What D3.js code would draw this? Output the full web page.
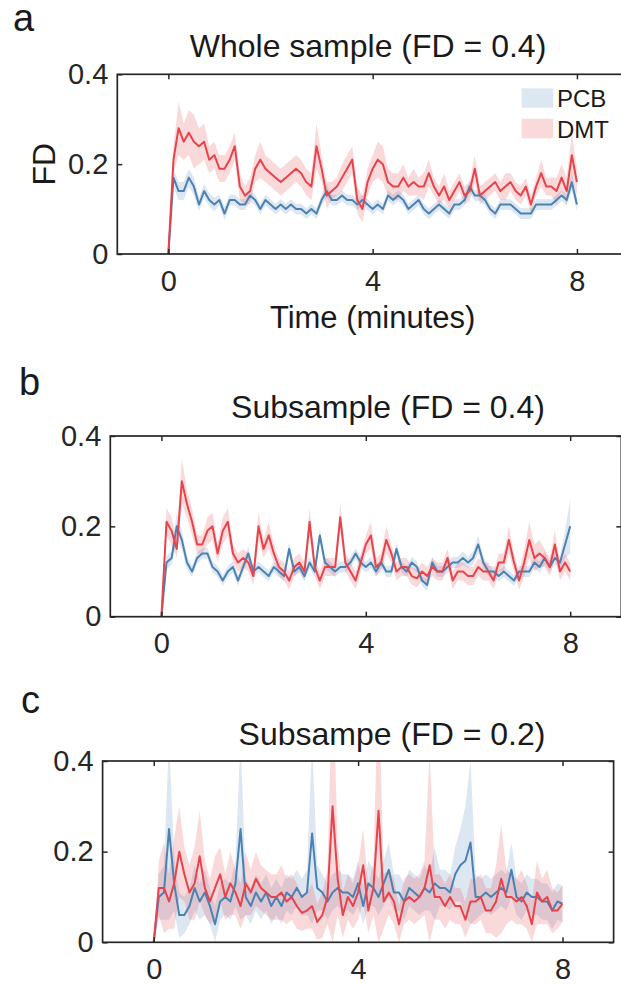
<!DOCTYPE html>
<html>
<head>
<meta charset="utf-8">
<script src="https://cdn.jsdelivr.net/npm/d3@7"></script>
<style>
  body { margin: 0; background: #fff; }
  svg text { font-family: "Liberation Sans", Arial, Helvetica, sans-serif; fill: #1a1a1a; }
</style>
</head>
<body>
<svg id="fig" width="621" height="984"></svg>
<script>
/****************************** DONNEES ******************************/

// time grid (minutes), one sample every 0.1 min
var times = d3.range(0, 81).map(function(i) { return i / 10; });
var xTicks = [0, 4, 8];
var yTicks = [0, 0.2, 0.4];
var yTickLabels = ["0", "0.2", "0.4"];
var seriesNames = ["PCB", "DMT"];

// a : whole sample (FD = 0.4)
var pcbA = [0, .17, .14, .14, .17, .15, .11, .14, .12, .11,
            .12, .09, .12, .12, .11, .11, .13, .12, .10, .12,
            .11, .10, .11, .10, .11, .10, .10, .09, .10, .09,
            .12, .14, .12, .12, .13, .12, .12, .11, .12, .11,
            .10, .11, .10, .13, .12, .13, .12, .10, .11, .12,
            .10, .09, .10, .11, .10, .09, .11, .11, .12, .15,
            .13, .13, .12, .10, .09, .11, .11, .11, .10, .09,
            .09, .09, .11, .11, .11, .11, .12, .13, .12, .16,
            .11];
var pcbErrA = [0, .02, .02, .02, .02, .02, .015, .015, .015, .015,
               .012, .015, .012, .012, .012, .012, .012, .012, .012, .012,
               .012, .012, .012, .012, .012, .012, .012, .012, .012, .012,
               .012, .015, .012, .012, .012, .012, .012, .012, .012, .012,
               .012, .012, .012, .012, .012, .012, .012, .012, .012, .012,
               .012, .012, .012, .012, .012, .012, .012, .012, .012, .015,
               .012, .012, .012, .012, .012, .012, .012, .012, .012, .012,
               .012, .012, .012, .012, .012, .012, .012, .012, .012, .02,
               .015];
var dmtA = [0, .21, .28, .25, .27, .25, .24, .25, .21, .22,
            .19, .19, .21, .24, .15, .13, .14, .19, .21, .19,
            .18, .17, .16, .17, .18, .19, .18, .16, .15, .24,
            .19, .13, .14, .15, .17, .19, .21, .12, .10, .16,
            .19, .21, .20, .16, .15, .15, .17, .15, .16, .15,
            .15, .18, .15, .13, .15, .12, .14, .16, .13, .14,
            .19, .13, .14, .15, .16, .14, .15, .16, .14, .13,
            .15, .11, .15, .18, .15, .15, .14, .17, .14, .22,
            .16];
var dmtErrA = [0, .03, .06, .04, .05, .06, .04, .04, .03, .03,
               .03, .03, .03, .03, .03, .02, .03, .03, .04, .03,
               .03, .03, .03, .03, .03, .03, .03, .03, .03, .05,
               .03, .03, .02, .02, .03, .03, .03, .03, .03, .03,
               .03, .04, .04, .03, .03, .03, .03, .02, .03, .02,
               .03, .03, .02, .02, .03, .02, .02, .02, .02, .02,
               .03, .02, .02, .02, .02, .02, .03, .02, .02, .02,
               .02, .02, .02, .03, .02, .02, .03, .03, .03, .05,
               .03];

// b : subsample (FD = 0.4)
var pcbB = [0, .12, .13, .20, .17, .12, .10, .13, .14, .14,
            .11, .10, .08, .10, .11, .08, .11, .14, .10, .11,
            .10, .09, .11, .10, .09, .15, .10, .11, .09, .12,
            .10, .18, .12, .11, .10, .11, .11, .12, .14, .12,
            .11, .12, .10, .12, .10, .10, .15, .11, .10, .12,
            .11, .08, .07, .12, .10, .10, .11, .12, .12, .13,
            .12, .13, .16, .12, .10, .10, .09, .10, .09, .08,
            .10, .10, .10, .12, .11, .13, .11, .13, .12, .16,
            .20];
var pcbErrB = [0, .015, .015, .03, .02, .015, .012, .012, .012, .012,
               .012, .012, .012, .012, .012, .012, .012, .015, .012, .012,
               .012, .012, .012, .012, .012, .015, .012, .012, .012, .012,
               .012, .015, .012, .012, .012, .012, .012, .012, .012, .012,
               .012, .012, .012, .012, .012, .012, .015, .012, .012, .012,
               .012, .012, .012, .012, .012, .012, .012, .012, .012, .015,
               .012, .015, .02, .012, .012, .012, .012, .012, .012, .012,
               .012, .012, .012, .012, .012, .015, .012, .015, .015, .03,
               .06];
var dmtB = [0, .21, .19, .15, .30, .25, .21, .16, .16, .19,
            .20, .14, .19, .21, .14, .12, .13, .12, .09, .20,
            .15, .18, .14, .11, .10, .08, .11, .12, .10, .21,
            .11, .08, .11, .11, .11, .22, .12, .10, .08, .12,
            .16, .18, .11, .12, .17, .14, .10, .11, .11, .09,
            .085, .10, .09, .11, .10, .10, .13, .08, .10, .10,
            .09, .09, .11, .10, .10, .08, .12, .12, .17, .12,
            .08, .12, .17, .13, .14, .13, .11, .16, .10, .12,
            .10];
var dmtErrB = [0, .03, .03, .02, .05, .03, .03, .02, .02, .03,
               .03, .02, .03, .03, .02, .02, .02, .02, .02, .03,
               .02, .03, .02, .02, .02, .02, .02, .02, .02, .03,
               .02, .02, .02, .02, .02, .03, .02, .02, .02, .02,
               .02, .03, .02, .02, .03, .02, .02, .02, .02, .02,
               .02, .02, .02, .02, .02, .02, .02, .02, .02, .02,
               .02, .02, .02, .02, .02, .02, .02, .02, .03, .02,
               .02, .03, .04, .03, .03, .02, .02, .03, .02, .02,
               .02];

// c : subsample (FD = 0.2)
var pcbC = [0, .10, .11, .25, .13, .06, .06, .08, .12, .09,
            .11, .08, .04, .09, .10, .09, .13, .25, .10, .08,
            .11, .09, .11, .08, .10, .08, .11, .10, .12, .10,
            .11, .24, .12, .11, .09, .11, .12, .11, .11, .10,
            .13, .08, .13, .12, .10, .13, .16, .11, .11, .09,
            .12, .11, .10, .12, .11, .13, .12, .12, .11, .15,
            .17, .18, .22, .10, .10, .11, .10, .11, .12, .11,
            .16, .10, .09, .11, .10, .10, .09, .09, .07, .09,
            .085];
var pcbErrC = [0, .05, .06, .20, .06, .05, .04, .04, .05, .04,
               .05, .04, .04, .04, .04, .04, .05, .20, .04, .04,
               .04, .04, .04, .04, .04, .04, .04, .04, .04, .04,
               .05, .20, .05, .04, .04, .04, .04, .04, .04, .04,
               .05, .04, .05, .04, .04, .05, .06, .04, .04, .04,
               .04, .04, .04, .05, .04, .08, .04, .04, .04, .06,
               .08, .12, .18, .05, .04, .04, .04, .04, .04, .04,
               .06, .04, .04, .04, .04, .04, .04, .04, .04, .04,
               .04];
var dmtC = [0, .12, .12, .09, .13, .20, .15, .11, .13, .19,
            .12, .09, .12, .15, .10, .13, .11, .08, .13, .11,
            .14, .12, .11, .10, .10, .11, .09, .10, .08, .065,
            .07, .08, .045, .06, .10, .30, .14, .06, .10, .08,
            .11, .17, .07, .12, .29, .09, .11, .09, .04, .09,
            .10, .09, .10, .12, .17, .10, .10, .08, .10, .08,
            .08, .05, .09, .09, .10, .07, .07, .09, .14, .10,
            .10, .09, .10, .08, .04, .11, .09, .10, .07, .07,
            .085];
var dmtErrC = [0, .06, .10, .06, .10, .10, .06, .06, .08, .10,
               .06, .05, .07, .06, .05, .07, .05, .05, .07, .05,
               .06, .05, .05, .05, .05, .06, .05, .05, .05, .04,
               .04, .05, .04, .05, .06, .30, .08, .05, .05, .05,
               .06, .08, .05, .06, .30, .06, .05, .05, .04, .05,
               .05, .05, .05, .06, .25, .05, .05, .05, .05, .04,
               .04, .04, .05, .05, .05, .05, .05, .08, .12, .06,
               .05, .05, .06, .05, .05, .07, .05, .06, .05, .04,
               .04];

/****************************** MISE EN PAGE ******************************/

var panels = [
  { letter: "a", title: "Whole sample (FD = 0.4)", pcb: pcbA, pcbErr: pcbErrA, dmt: dmtA, dmtErr: dmtErrA,
    left: 117.3, right: 628, top: 74.3, bottom: 254, letterX: 13, letterY: 31, titleX: 368, titleY: 57,
    xlabel: "Time (minutes)", ylabel: "FD", legend: true },
  { letter: "b", title: "Subsample (FD = 0.4)", pcb: pcbB, pcbErr: pcbErrB, dmt: dmtB, dmtErr: dmtErrB,
    left: 110.3, right: 621.3, top: 436, bottom: 616.7, letterX: 19, letterY: 395, titleX: 388, titleY: 418 },
  { letter: "c", title: "Subsampe (FD = 0.2)", pcb: pcbC, pcbErr: pcbErrC, dmt: dmtC, dmtErr: dmtErrC,
    left: 102.6, right: 613.6, top: 761, bottom: 942.3, letterX: 21, letterY: 713, titleX: 392, titleY: 745 }
];

var blue = "#4a82b4";
var red = "#e8434b";
var ink = "#262626";

var svg = d3.select("#fig");

panels.forEach(function(p, i) {
  var x = d3.scaleLinear().domain([-1, 9]).range([p.left, p.right]);
  var y = d3.scaleLinear().domain([0, 0.4]).range([p.bottom, p.top]);

  // clip for the bands and lines
  svg.append("clipPath").attr("id", "clip" + i)
    .append("rect")
    .attr("x", x(-1)).attr("y", y(0.4))
    .attr("width", x(9) - x(-1)).attr("height", y(0) - y(0.4));

  var g = svg.append("g").attr("clip-path", "url(#clip" + i + ")");

  var area = function(vals, errs) {
    return d3.area()
      .x(function(d, k) { return x(times[k]); })
      .y0(function(d, k) { return y(Math.max(0, vals[k] - errs[k])); })
      .y1(function(d, k) { return y(vals[k] + errs[k]); })(vals);
  };
  var line = d3.line()
    .x(function(d, k) { return x(times[k]); })
    .y(function(d) { return y(d); });

  // bands
  g.append("path").attr("d", area(p.pcb, p.pcbErr))
    .style("fill", blue).style("fill-opacity", 0.19).style("stroke", "none");
  g.append("path").attr("d", area(p.dmt, p.dmtErr))
    .style("fill", red).style("fill-opacity", 0.2).style("stroke", "none");

  // mean lines
  g.append("path").attr("d", line(p.pcb))
    .style("fill", "none").style("stroke", blue).style("stroke-width", 2).style("stroke-linejoin", "round");
  g.append("path").attr("d", line(p.dmt))
    .style("fill", "none").style("stroke", red).style("stroke-width", 2).style("stroke-linejoin", "round");

  // axes (ticks pointing inward, box drawn separately)
  var axB = svg.append("g").attr("transform", "translate(0," + p.bottom + ")")
    .call(d3.axisBottom(x).tickValues(xTicks).tickSize(-5).tickPadding(16).tickFormat(d3.format("d")));
  var axT = svg.append("g").attr("transform", "translate(0," + p.top + ")")
    .call(d3.axisTop(x).tickValues(xTicks).tickSize(-5).tickFormat(""));
  var axL = svg.append("g").attr("transform", "translate(" + p.left + ",0)")
    .call(d3.axisLeft(y).tickValues(yTicks).tickSize(-5).tickPadding(9)
      .tickFormat(function(d, k) { return yTickLabels[k]; }));
  var axR = svg.append("g").attr("transform", "translate(" + p.right + ",0)")
    .call(d3.axisRight(y).tickValues(yTicks).tickSize(-5).tickFormat(""));

  [axB, axT, axL, axR].forEach(function(a) {
    a.select(".domain").remove();
    a.selectAll(".tick line").style("stroke", ink).style("stroke-width", 1.5);
    a.selectAll(".tick text").style("font-size", "29px").style("fill", ink)
      .style("font-family", "'Liberation Sans', Arial, sans-serif");
  });

  svg.append("rect")
    .attr("x", p.left).attr("y", p.top)
    .attr("width", p.right - p.left).attr("height", p.bottom - p.top)
    .style("fill", "none").style("stroke", ink).style("stroke-width", 1.7);

  // titles
  svg.append("text").attr("x", p.titleX).attr("y", p.titleY)
    .attr("text-anchor", "middle").style("font-size", "32px").text(p.title);
  svg.append("text").attr("x", p.letterX).attr("y", p.letterY)
    .style("font-size", "38px").text(p.letter);

  if (p.xlabel) {
    svg.append("text").attr("x", (x(0) + x(8)) / 2).attr("y", p.bottom + 74)
      .attr("text-anchor", "middle").style("font-size", "31px").text(p.xlabel);
  }
  if (p.ylabel) {
    svg.append("text")
      .attr("transform", "translate(55," + y(0.2) + ") rotate(-90)")
      .attr("text-anchor", "middle").style("font-size", "32px").text(p.ylabel);
  }

  // legende
  if (p.legend) {
    var legColors = [blue, red];
    var leg = svg.append("g");
    seriesNames.forEach(function(name, k) {
      leg.append("rect")
        .attr("x", 521.7).attr("y", 88.3 + k * 30.5)
        .attr("width", 31.6).attr("height", 19.5)
        .style("fill", legColors[k]).style("fill-opacity", k === 0 ? 0.19 : 0.2);
      leg.append("text")
        .attr("x", 557).attr("y", 106.8 + k * 31.3)
        .style("font-size", "24px").text(name);
    });
  }
});
</script>
</body>
</html>
